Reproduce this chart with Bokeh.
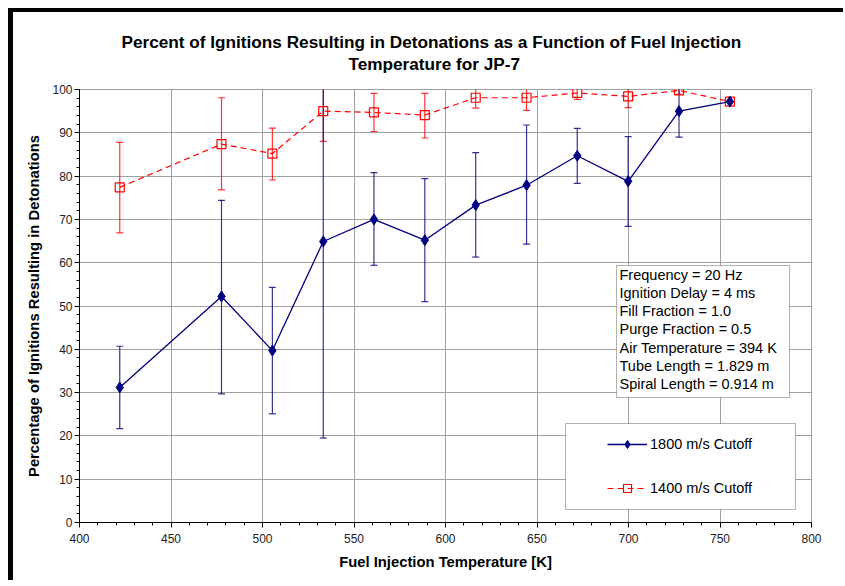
import numpy as np
from bokeh.plotting import figure
from bokeh.layouts import column, row
from bokeh.models import (ColumnDataSource, Whisker, TeeHead, Legend, LegendItem,
                          BoxAnnotation, Label, SingleIntervalTicker, Range1d, Title, Div)
from bokeh.embed import file_html
from bokeh.resources import INLINE

# ---------------- data ----------------
temperature = [422.0, 477.6, 505.4, 533.2, 560.9, 588.7, 616.5, 644.3, 672.0, 699.8, 727.6, 755.4]
cut1800 = [31.2, 52.2, 39.7, 64.9, 70.0, 65.2, 73.3, 77.9, 84.7, 78.8, 95.0, 97.2]
cut1800_hi = [40.7, 74.4, 54.3, 101.0, 80.8, 79.4, 85.4, 91.8, 91.0, 89.1, 100.9]
cut1800_lo = [21.7, 29.7, 25.1, 19.5, 59.4, 51.0, 61.3, 64.3, 78.3, 68.4, 89.0]
cut1400 = [77.4, 87.4, 85.2, 95.0, 94.7, 94.1, 98.1, 98.1, 99.2, 98.4, 99.8, 97.2]
cut1400_hi = [87.8, 98.1, 91.1, 101.2, 99.1, 99.1, 100.4, 100.7, 100.7, 100.7, 100.9]
cut1400_lo = [66.9, 76.8, 79.1, 88.0, 90.3, 88.8, 95.7, 95.2, 97.7, 95.8, 98.9]

series_names = ["1800 m/s Cutoff", "1400 m/s Cutoff"]
title_lines = ["Percent of Ignitions Resulting in Detonations as a Function of Fuel Injection",
               "Temperature for JP-7"]
info_lines = ["Frequency = 20 Hz", "Ignition Delay = 4 ms", "Fill Fraction = 1.0",
              "Purge Fraction = 0.5", "Air Temperature = 394 K", "Tube Length = 1.829 m",
              "Spiral Length = 0.914 m"]
x_label = "Fuel Injection Temperature [K]"
y_label = "Percentage of Ignitions Resulting in Detonations"

FONT = "Liberation Sans"
NAVY = "#000080"
RED = "#FF0000"
GRID = "#a0a0a0"

# ---------------- figure ----------------
X0, X1, Y0, Y1 = 400, 800, 0, 100
p = figure(width=830, height=568, output_backend="svg", toolbar_location=None, title=None,
           x_range=Range1d(X0, X1), y_range=Range1d(Y0, Y1),
           min_border_left=66, min_border_right=32, min_border_top=77, min_border_bottom=58)
p.background_fill_color = "white"
p.border_fill_color = "white"
p.outline_line_color = GRID
p.outline_line_width = 1

xax = p.xaxis[0]
yax = p.yaxis[0]

# blank spacer between the frame and the title lines (nearest the frame)
p.add_layout(Title(text=" ", text_font_size="1px", standoff=13), "above")

# title: two centred lines (added outward from the frame)
title_offsets = [42, 269]
for t, off in reversed(list(zip(title_lines, title_offsets))):
    p.add_layout(Title(text=t, align="left", offset=off, text_font=FONT,
                       text_font_style="bold", text_font_size="17.2px",
                       text_color="black", standoff=0), "above")

# pixel -> data helpers for annotation placement (frame: 79..811 x, 89..522 y in page px)
FL, FR, FT, FB = 79.0, 811.0, 89.0, 522.0
def dx(px):
    return X0 + (px - FL) * (X1 - X0) / (FR - FL)
def dy(py):
    return Y0 + (FB - py) * (Y1 - Y0) / (FB - FT)

for ax in (xax, yax):
    ax.axis_line_color = "black"
    ax.axis_line_width = 1
    ax.major_tick_line_color = "black"
    ax.minor_tick_line_color = "black"
    ax.major_tick_in = 0
    ax.major_tick_out = 5
    ax.minor_tick_in = 0
    ax.minor_tick_out = 3
    ax.major_label_text_font = FONT
    ax.major_label_text_font_size = "12px"
    ax.major_label_text_color = "#222222"
    ax.axis_label_text_font = FONT
    ax.axis_label_text_font_style = "bold"
    ax.axis_label_text_font_size = "14.8px"
    ax.axis_label_text_color = "black"

xax.ticker = SingleIntervalTicker(interval=50, num_minor_ticks=5)
yax.ticker = SingleIntervalTicker(interval=10, num_minor_ticks=5)
xax.axis_label = x_label
yax.axis_label = y_label
xax.axis_label_standoff = 8
yax.axis_label_standoff = 7
xax.major_label_standoff = 6
yax.major_label_standoff = 2

p.xgrid.grid_line_color = GRID
p.ygrid.grid_line_color = GRID
p.xgrid.ticker = xax.ticker
p.ygrid.ticker = yax.ticker

# ---------------- error bars ----------------
n = len(cut1800_hi)
src_b_err = ColumnDataSource(dict(x=temperature[:n], hi=cut1800_hi, lo=cut1800_lo))
src_r_err = ColumnDataSource(dict(x=temperature[:n], hi=cut1400_hi, lo=cut1400_lo))

wb = Whisker(base="x", upper="hi", lower="lo", source=src_b_err, dimension="height",
             line_color=NAVY, line_alpha=0.8, line_width=1.2,
             upper_head=TeeHead(size=7, line_color=NAVY, line_alpha=0.8, line_width=1.2),
             lower_head=TeeHead(size=7, line_color=NAVY, line_alpha=0.8, line_width=1.2))
wr = Whisker(base="x", upper="hi", lower="lo", source=src_r_err, dimension="height",
             line_color=RED, line_alpha=0.8, line_width=1.2,
             upper_head=TeeHead(size=7, line_color=RED, line_alpha=0.8, line_width=1.2),
             lower_head=TeeHead(size=7, line_color=RED, line_alpha=0.8, line_width=1.2))
p.add_layout(wr)
p.add_layout(wb)

# ---------------- series ----------------
src = ColumnDataSource(dict(x=temperature, b=cut1800, r=cut1400))
rl = p.line("x", "r", source=src, line_color=RED, line_width=1.2, line_dash="6 4")
rs = p.scatter("x", "r", source=src, marker="square", size=9, line_color=RED,
               line_width=1.2, fill_color="white", fill_alpha=0.0)
bl = p.line("x", "b", source=src, line_color=NAVY, line_width=1.3)
bs = p.scatter("x", "b", source=src, marker="diamond", size=11, line_color=NAVY,
               fill_color=NAVY)

# ---------------- info box ----------------
p.add_layout(BoxAnnotation(left=dx(616), right=dx(789), top=dy(265), bottom=dy(397),
                           fill_color="white", fill_alpha=1.0, line_color="black",
                           line_width=1))
for i, t in enumerate(info_lines):
    p.add_layout(Label(x=dx(619), y=dy(274 + 18.3 * i), text=t, text_align="left",
                       text_baseline="middle", text_font=FONT, text_font_size="14.5px",
                       text_color="black"))

# ---------------- legend ----------------
p.add_layout(BoxAnnotation(left=dx(565), right=dx(795), top=dy(423), bottom=dy(509),
                           fill_color="white", fill_alpha=1.0, line_color="black",
                           line_width=1))
legend = Legend(items=[LegendItem(label=series_names[0], renderers=[bl, bs]),
                       LegendItem(label=series_names[1], renderers=[rl, rs])],
                location=(528, 24), padding=0, margin=0, spacing=24,
                glyph_width=40, glyph_height=20, label_height=20, label_standoff=3,
                border_line_alpha=0, background_fill_alpha=0,
                label_text_font=FONT, label_text_font_size="14.5px",
                label_text_color="black")
p.add_layout(legend)

# ---------------- outer black frame (top and left edges), 8px page offset ----------------
top_bar = Div(width=835, height=4, margin=0, styles={"background-color": "black"})
left_bar = Div(width=5, height=568, margin=0, styles={"background-color": "black"})
framed = column(top_bar, row(left_bar, p, margin=0, spacing=0), margin=0, spacing=0)
pad_top = Div(width=8, height=8, margin=0)
pad_left = Div(width=8, height=8, margin=0)
layout = column(pad_top, row(pad_left, framed, margin=0, spacing=0), margin=0, spacing=0)

open("out.html", "w").write(file_html(layout, INLINE))
